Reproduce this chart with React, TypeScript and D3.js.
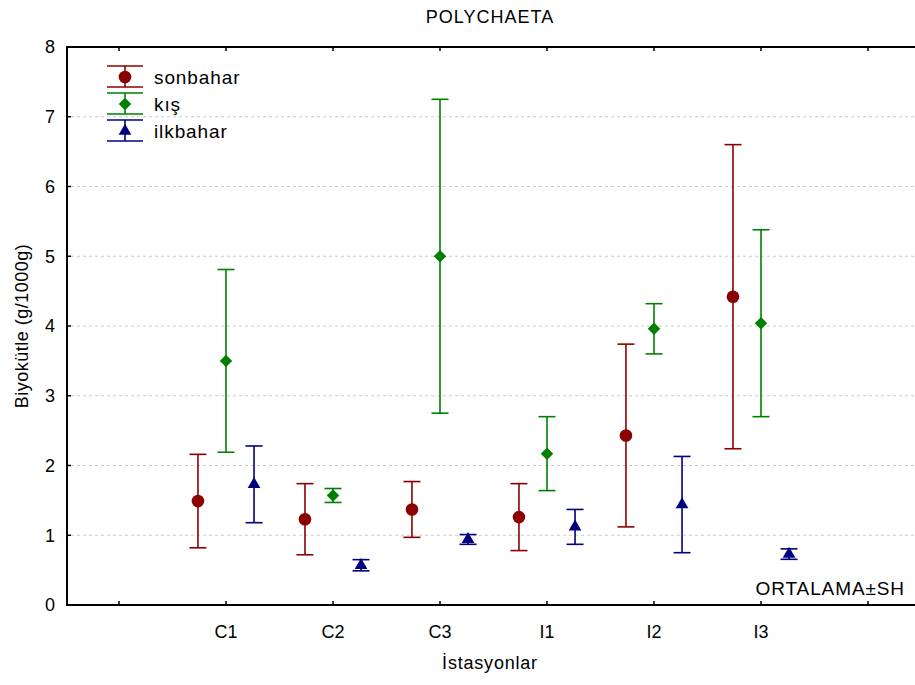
import React, { useRef, useEffect } from "react";
import * as d3 from "d3";

// Stations on the x axis
const stations = ["C1", "C2", "C3", "I1", "I2", "I3"];
const seasons = ["sonbahar", "kış", "ilkbahar"];
const seasonColors = ["#8b0000", "#008000", "#000080"];

// Means and standard errors (ORTALAMA ± SH)
const sonbaharMean = [1.49, 1.23, 1.37, 1.26, 2.43, 4.42];
const sonbaharSe = [0.67, 0.51, 0.4, 0.48, 1.31, 2.18];
const kisMean = [3.5, 1.57, 5.0, 2.17, 3.96, 4.04];
const kisSe = [1.31, 0.1, 2.25, 0.53, 0.36, 1.34];
const ilkbaharMean = [1.73, 0.57, 0.94, 1.12, 1.44, 0.73];
const ilkbaharSe = [0.55, 0.08, 0.07, 0.25, 0.69, 0.075];

const yTicks = [0, 1, 2, 3, 4, 5, 6, 7, 8];

const FONT = "'Liberation Sans', Arial, sans-serif";

const App = () => {
  const ref = useRef(null);
  const width = 915;
  const height = 685;
  const left = 67;
  const top = 47;
  const bottom = 605;
  const right = 922;

  useEffect(() => {
    const svg = d3.select(ref.current);
    svg.selectAll("*").remove();

    // category index 0..7, stations sit on 1..6
    const x = d3.scaleLinear().domain([0, 7]).range([119, 868]);
    const y = d3.scaleLinear().domain([0, 8]).range([bottom, top]);

    const series = [
      { name: seasons[0], mean: sonbaharMean, se: sonbaharSe, shape: "circle", offset: -0.262 },
      { name: seasons[1], mean: kisMean, se: kisSe, shape: "diamond", offset: 0 },
      { name: seasons[2], mean: ilkbaharMean, se: ilkbaharSe, shape: "triangle", offset: 0.262 },
    ];

    // grid
    svg
      .append("g")
      .selectAll("line")
      .data(yTicks.filter((d) => d > 0 && d < 8))
      .enter()
      .append("line")
      .attr("x1", left + 4)
      .attr("x2", right)
      .attr("y1", (d) => y(d))
      .attr("y2", (d) => y(d))
      .attr("stroke", "#cacaca")
      .attr("stroke-width", 1)
      .attr("stroke-dasharray", "3,3");

    // frame
    const frame = svg.append("g").attr("stroke", "#000").attr("stroke-width", 2);
    frame.append("line").attr("x1", left).attr("x2", right).attr("y1", bottom).attr("y2", bottom);
    frame.append("line").attr("x1", left).attr("x2", right).attr("y1", top).attr("y2", top);
    frame.append("line").attr("x1", left).attr("x2", left).attr("y1", top - 1).attr("y2", bottom + 1);

    // x ticks (inside, bottom and top)
    const xIdx = d3.range(0, 8);
    frame
      .selectAll(".xtb")
      .data(xIdx)
      .enter()
      .append("line")
      .attr("stroke-width", 1.5)
      .attr("x1", (d) => x(d))
      .attr("x2", (d) => x(d))
      .attr("y1", bottom)
      .attr("y2", bottom - 4);
    frame
      .selectAll(".xtt")
      .data(xIdx)
      .enter()
      .append("line")
      .attr("stroke-width", 1.5)
      .attr("x1", (d) => x(d))
      .attr("x2", (d) => x(d))
      .attr("y1", top)
      .attr("y2", top + 4);

    // y ticks (inside)
    frame
      .selectAll(".yt")
      .data(yTicks)
      .enter()
      .append("line")
      .attr("stroke-width", 1.5)
      .attr("x1", left)
      .attr("x2", left + 4)
      .attr("y1", (d) => y(d))
      .attr("y2", (d) => y(d));

    // y tick labels
    svg
      .append("g")
      .selectAll("text")
      .data(yTicks)
      .enter()
      .append("text")
      .attr("x", 55)
      .attr("y", (d) => y(d))
      .attr("dy", "0.36em")
      .attr("text-anchor", "end")
      .attr("font-family", FONT)
      .attr("font-size", 18)
      .text((d) => d);

    // x tick labels
    svg
      .append("g")
      .selectAll("text")
      .data(stations)
      .enter()
      .append("text")
      .attr("x", (d, i) => x(i + 1))
      .attr("y", 638)
      .attr("text-anchor", "middle")
      .attr("font-family", FONT)
      .attr("font-size", 18)
      .text((d) => d);

    // titles
    svg
      .append("text")
      .attr("x", (left + 913) / 2)
      .attr("y", 23)
      .attr("text-anchor", "middle")
      .attr("font-family", FONT)
      .attr("font-size", 18)
      .attr("letter-spacing", 1)
      .text("POLYCHAETA");

    svg
      .append("text")
      .attr("x", (left + 913) / 2)
      .attr("y", 669)
      .attr("text-anchor", "middle")
      .attr("font-family", FONT)
      .attr("font-size", 18)
      .attr("letter-spacing", 0.8)
      .text("İstasyonlar");

    svg
      .append("text")
      .attr("transform", `translate(28, ${(top + bottom) / 2}) rotate(-90)`)
      .attr("text-anchor", "middle")
      .attr("font-family", FONT)
      .attr("font-size", 18)
      .attr("letter-spacing", 0.5)
      .text("Biyokütle (g/1000g)");

    svg
      .append("text")
      .attr("x", 905)
      .attr("y", 595)
      .attr("text-anchor", "end")
      .attr("font-family", FONT)
      .attr("font-size", 19)
      .attr("letter-spacing", 0.9)
      .text("ORTALAMA±SH");

    const symbolFor = (shape, size) => {
      if (shape === "circle") return d3.symbol().type(d3.symbolCircle).size(size)();
      if (shape === "diamond") return d3.symbol().type(d3.symbolSquare).size(size)();
      return d3.symbol().type(d3.symbolTriangle).size(size)();
    };
    const sizes = { circle: 125, diamond: 78, triangle: 70 };
    const markerTransform = (shape, cx, cy) =>
      shape === "diamond" ? `translate(${cx},${cy}) rotate(45)` : `translate(${cx},${cy})`;

    // error bars and markers
    series.forEach((s, si) => {
      const color = seasonColors[si];
      const g = svg.append("g");
      const items = stations.map((st, i) => ({ i, mean: s.mean[i], se: s.se[i] }));
      const bars = g.selectAll("g").data(items).enter().append("g");
      const cx = (d) => x(d.i + 1 + s.offset);

      bars
        .append("line")
        .attr("x1", cx)
        .attr("x2", cx)
        .attr("y1", (d) => y(d.mean + d.se))
        .attr("y2", (d) => y(d.mean - d.se))
        .attr("stroke", color)
        .attr("stroke-width", 1.6);
      [1, -1].forEach((sign) => {
        bars
          .append("line")
          .attr("x1", (d) => cx(d) - 8.5)
          .attr("x2", (d) => cx(d) + 8.5)
          .attr("y1", (d) => y(d.mean + sign * d.se))
          .attr("y2", (d) => y(d.mean + sign * d.se))
          .attr("stroke", color)
          .attr("stroke-width", 1.6);
      });
      bars
        .append("path")
        .attr("d", symbolFor(s.shape, sizes[s.shape]))
        .attr("transform", (d) => markerTransform(s.shape, cx(d), y(d.mean)))
        .attr("fill", color);

      // legend
      const ly = [77, 104, 131][si];
      const lg = svg.append("g");
      lg.append("line").attr("x1", 107).attr("x2", 143).attr("y1", ly - 11).attr("y2", ly - 11).attr("stroke", color).attr("stroke-width", 1.6);
      lg.append("line").attr("x1", 107).attr("x2", 143).attr("y1", ly + 10).attr("y2", ly + 10).attr("stroke", color).attr("stroke-width", 1.6);
      lg.append("line").attr("x1", 125).attr("x2", 125).attr("y1", ly - 11).attr("y2", ly + 10).attr("stroke", color).attr("stroke-width", 1.6);
      lg.append("path")
        .attr("d", symbolFor(s.shape, sizes[s.shape]))
        .attr("transform", markerTransform(s.shape, 125, ly))
        .attr("fill", color);
      lg.append("text")
        .attr("x", 154)
        .attr("y", ly + 7)
        .attr("font-family", FONT)
        .attr("font-size", 19)
        .attr("letter-spacing", 0.9)
        .text(s.name);
    });
  }, []);

  return (
    <svg
      ref={ref}
      width={width}
      height={height}
      style={{ position: "absolute", left: 0, top: 0, background: "#fff" }}
    ></svg>
  );
};

export default App;
